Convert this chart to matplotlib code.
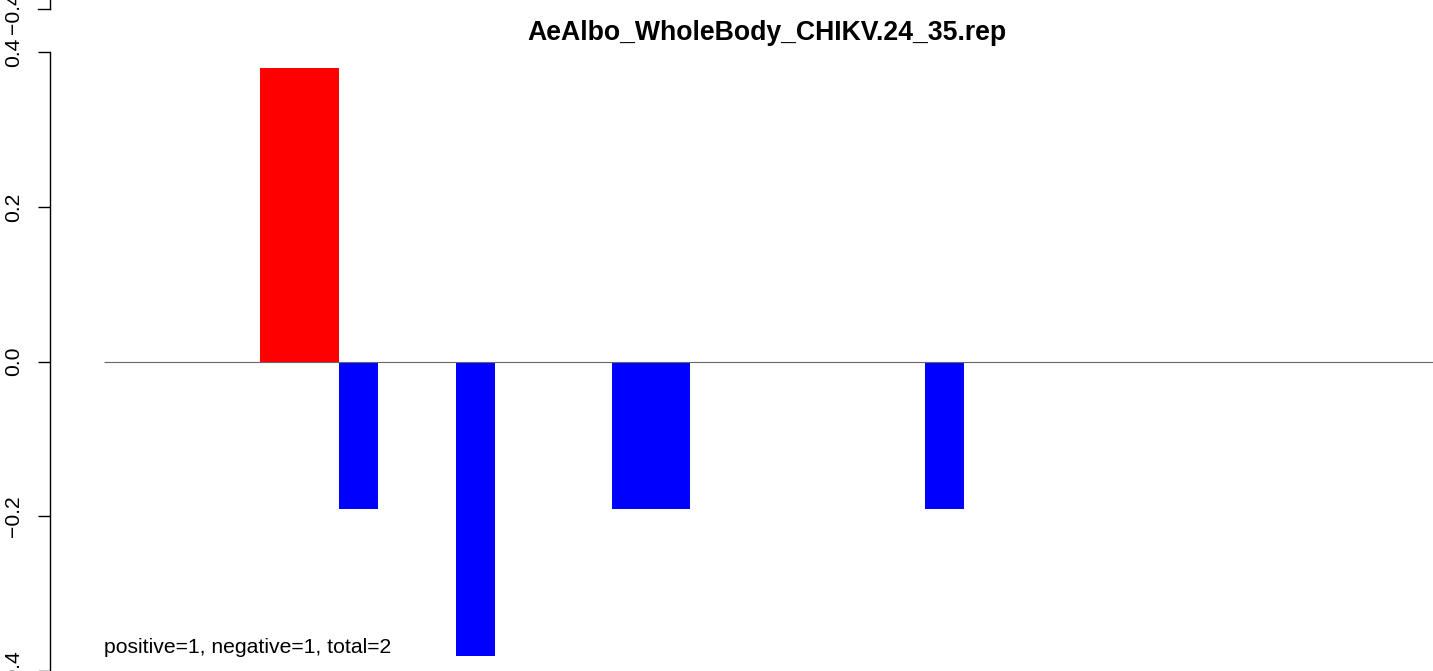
import matplotlib
matplotlib.use("Agg")
import matplotlib.pyplot as plt

plt.rcParams['font.family'] = ['Liberation Sans', 'DejaVu Sans']

title = "AeAlbo_WholeBody_CHIKV.24_35.rep"
n_bins = 34
bar_index = [4, 5, 6, 9, 13, 14, 21]
bar_values = [0.38, 0.38, -0.19, -0.38, -0.19, -0.19, -0.19]
yticks = [-0.4, -0.2, 0.0, 0.2, 0.4]
ytick_labels = ["\u22120.4", "\u22120.2", "0.0", "0.2", "0.4"]
summary = "positive=1, negative=1, total=2"

W, H = 1433, 671
fig = plt.figure(figsize=(W / 100, H / 100), dpi=100)
ax = fig.add_axes([0, 0, 1, 1])

# pixel mapping: x_px = 104 + x*39.09 ; y_px = 367 - v*785
unit = 39.09
xlim = (-104 / unit, (W - 104) / unit)
ylim = ((367 - H) / 785, 367 / 785)
ax.set_xlim(*xlim)
ax.set_ylim(*ylim)

colors = ['#FF0000' if v > 0 else '#0000FF' for v in bar_values]
ax.bar(bar_index, bar_values, width=1.0, align='edge', color=colors,
       linewidth=0, zorder=2)
ax.hlines(0, 0, n_bins, color='#666666', linewidth=0.8, zorder=3)

axis_x = (50 - 104) / unit
for s in ['top', 'right', 'bottom']:
    ax.spines[s].set_visible(False)
ax.spines['left'].set_position(('data', axis_x))
ax.spines['left'].set_bounds(-0.4, 0.4)
ax.spines['left'].set_linewidth(1.0)
ax.set_xticks([])
ax.set_yticks(yticks)
ax.set_yticklabels(ytick_labels, rotation=90, va='center', fontsize=15.2)
ax.tick_params(axis='y', length=8.6, width=1.0, pad=11)

# fragment of the panel above (its lowest tick)
frag_y = (367 - 9.5) / 785
ax.plot([axis_x, axis_x], [frag_y, ylim[1] + 0.01], color='black',
        linewidth=1.0, clip_on=False)
ax.plot([axis_x - 12 / unit, axis_x], [frag_y, frag_y], color='black',
        linewidth=1.0)
ax.text((14 - 104) / unit, (367 - 13) / 785, "\u22120.4", rotation=90,
        ha='center', va='center', fontsize=15.2)

ax.text(n_bins / 2 - 0.04, (367 - 33) / 785, title, ha='center', va='center',
        fontsize=19.2, fontweight='bold')
ax.text(0, (367 - 657) / 785, summary, ha='left', va='center', fontsize=15.2)

fig.savefig("out.png", dpi=100)
